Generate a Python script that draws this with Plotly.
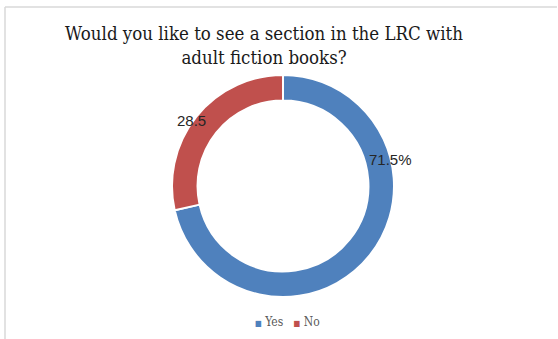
import plotly.graph_objects as go

# Survey responses
categories = ["Yes", "No"]
values = [71.5, 28.5]
value_labels = ["71.5%", "28.5"]
colors = ["#4F81BD", "#C0504D"]
title_lines = ["Would you like to see a section in the LRC with", "adult fiction books?"]

W, H = 558, 339


def px(x):
    return x / W


def py(y):
    return 1 - y / H


fig = go.Figure(
    go.Pie(
        labels=categories,
        values=values,
        hole=0.77,
        sort=False,
        direction="clockwise",
        rotation=0,
        marker=dict(colors=colors, line=dict(color="white", width=2)),
        textinfo="none",
        hoverinfo="label+value",
        showlegend=False,
        domain=dict(x=[px(172), px(394)], y=[py(297), py(75)]),
    )
)

annotations = [
    dict(
        text="<br>".join(title_lines),
        x=px(264), y=py(21), xref="paper", yref="paper",
        xanchor="center", yanchor="top", showarrow=False,
        font=dict(family="DejaVu Serif Condensed, DejaVu Serif", size=18.5, color="#1A1A1A"),
    ),
    dict(
        text=value_labels[0],
        x=px(390), y=py(159), xref="paper", yref="paper",
        xanchor="center", yanchor="middle", showarrow=False,
        font=dict(family="Liberation Sans", size=15, color="#262626"),
    ),
    dict(
        text=value_labels[1],
        x=px(191), y=py(120), xref="paper", yref="paper",
        xanchor="center", yanchor="middle", showarrow=False,
        font=dict(family="Liberation Sans", size=15, color="#262626"),
    ),
    dict(
        text=(
            f"<span style='color:{colors[0]};font-size:8px'>■</span> {categories[0]}"
            f"&nbsp;&nbsp;&nbsp;<span style='color:{colors[1]};font-size:8px'>■</span> {categories[1]}"
        ),
        x=px(287), y=py(322), xref="paper", yref="paper",
        xanchor="center", yanchor="middle", showarrow=False,
        font=dict(family="DejaVu Serif Condensed, DejaVu Serif", size=12, color="#595959"),
    ),
]

# Chart-area frame: top and left edges
shapes = [
    dict(type="line", xref="paper", yref="paper", x0=px(5), x1=px(557), y0=py(7), y1=py(7),
         line=dict(color="#D9D9D9", width=1.5)),
    dict(type="line", xref="paper", yref="paper", x0=px(5), x1=px(5), y0=py(7), y1=0,
         line=dict(color="#D9D9D9", width=1.5)),
]

fig.update_layout(
    width=W,
    height=H,
    margin=dict(l=0, r=0, t=0, b=0),
    paper_bgcolor="white",
    plot_bgcolor="white",
    annotations=annotations,
    shapes=shapes,
)

fig.write_html("out.html")
